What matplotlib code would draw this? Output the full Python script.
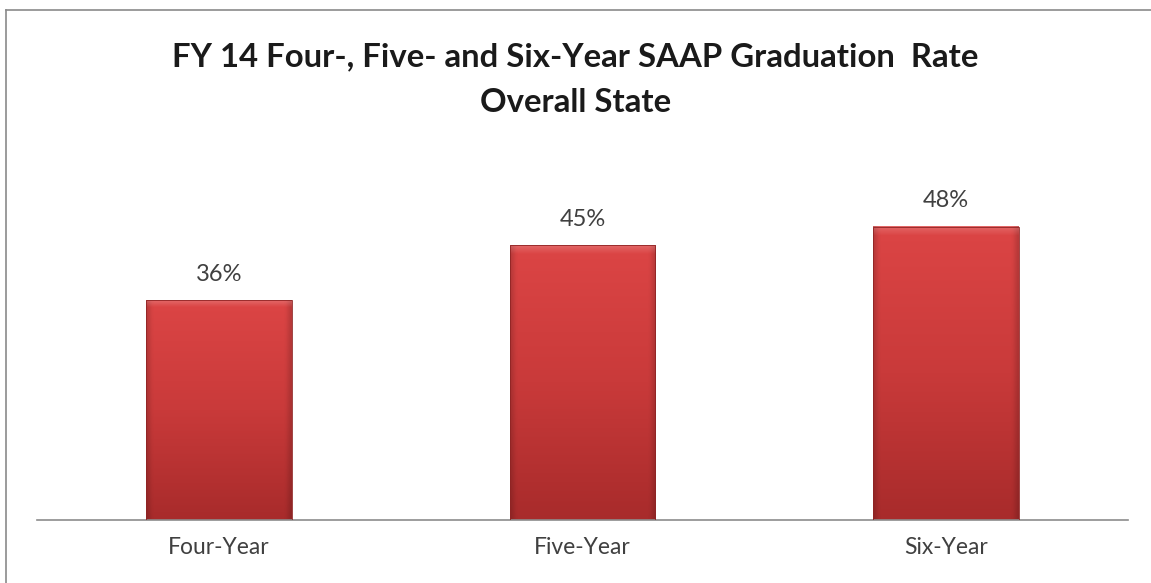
import numpy as np
import matplotlib
matplotlib.use("Agg")
import matplotlib.pyplot as plt
from matplotlib.colors import LinearSegmentedColormap
from matplotlib.lines import Line2D

categories = ["Four-Year", "Five-Year", "Six-Year"]
rates = [0.36, 0.45, 0.48]
value_labels = ["36%", "45%", "48%"]
title_lines = ["FY 14 Four-, Five- and Six-Year SAAP Graduation  Rate", "Overall State"]

plt.rcParams["font.family"] = ["Lato", "DejaVu Sans"]

fig = plt.figure(figsize=(11.51, 5.83), dpi=100)
W, H = 1151, 583

def fx(px):
    return px / W

def fy(py):
    return 1 - py / H

ax = fig.add_axes([fx(37), fy(520), fx(1128) - fx(37), fy(153.4) - fy(520)])
ax.set_xlim(-0.5, len(categories) - 0.5)
ax.set_ylim(0, 0.6)

x = np.arange(len(categories))
bar_w = 0.4
bars = ax.bar(x, rates, width=bar_w, color="none", edgecolor="none", zorder=2)

# vertical red gradient with a soft bevel toward the edges
cmap = LinearSegmentedColormap.from_list("redgrad", ["#dc4545", "#c93a3a", "#a82b2b"])
for b in bars:
    x0, w, h = b.get_x(), b.get_width(), b.get_height()
    ny, nx = 200, 60
    yy = np.linspace(1, 0, ny)[:, None] * np.ones((1, nx))
    img = cmap(1 - yy)
    # darken the sides slightly for the bevel look
    xs = np.linspace(0, 1, nx)
    side = np.clip(np.minimum(xs, 1 - xs) / 0.04, 0, 1)
    shade = 0.85 + 0.15 * side
    img[..., :3] *= shade[None, :, None]
    # lighter top strip
    top = np.linspace(0, 1, ny)
    hl = np.clip(1 - top / 0.03, 0, 1)
    img[..., :3] = img[..., :3] + (1 - img[..., :3]) * 0.18 * hl[:, None, None]
    ax.imshow(img, extent=(x0, x0 + w, 0, h), aspect="auto", zorder=2,
              interpolation="bilinear")
    ax.add_patch(plt.Rectangle((x0, 0), w, h, fill=False, edgecolor="#8f2424",
                               linewidth=0.6, zorder=3))

for xi, r, lab in zip(x, rates, value_labels):
    ax.annotate(lab, (xi, r), xytext=(0, 11), textcoords="offset points",
                ha="center", va="bottom", fontsize=17, color="#404040")

ax.set_xticks(x)
ax.set_xticklabels(categories, fontsize=16.5, color="#404040")
ax.tick_params(axis="x", length=0, pad=12)
ax.set_yticks([])
for s in ["top", "right", "left"]:
    ax.spines[s].set_visible(False)
ax.spines["bottom"].set_color("#8c8c8c")
ax.spines["bottom"].set_linewidth(1.2)

fig.text(0.5, fy(57), title_lines[0], ha="center", va="center",
         fontsize=23.7, fontweight="bold", color="#1a1a1a")
fig.text(0.5, fy(103), title_lines[1], ha="center", va="center",
         fontsize=23.7, fontweight="bold", color="#1a1a1a")

# chart area border (left and top edges)
fig.add_artist(Line2D([fx(5.5), fx(5.5)], [0, fy(9.5)], color="#8a8a8a", linewidth=1.2))
fig.add_artist(Line2D([fx(5.5), 1], [fy(9.5), fy(9.5)], color="#8a8a8a", linewidth=1.2))

fig.savefig("out.png", dpi=100)
